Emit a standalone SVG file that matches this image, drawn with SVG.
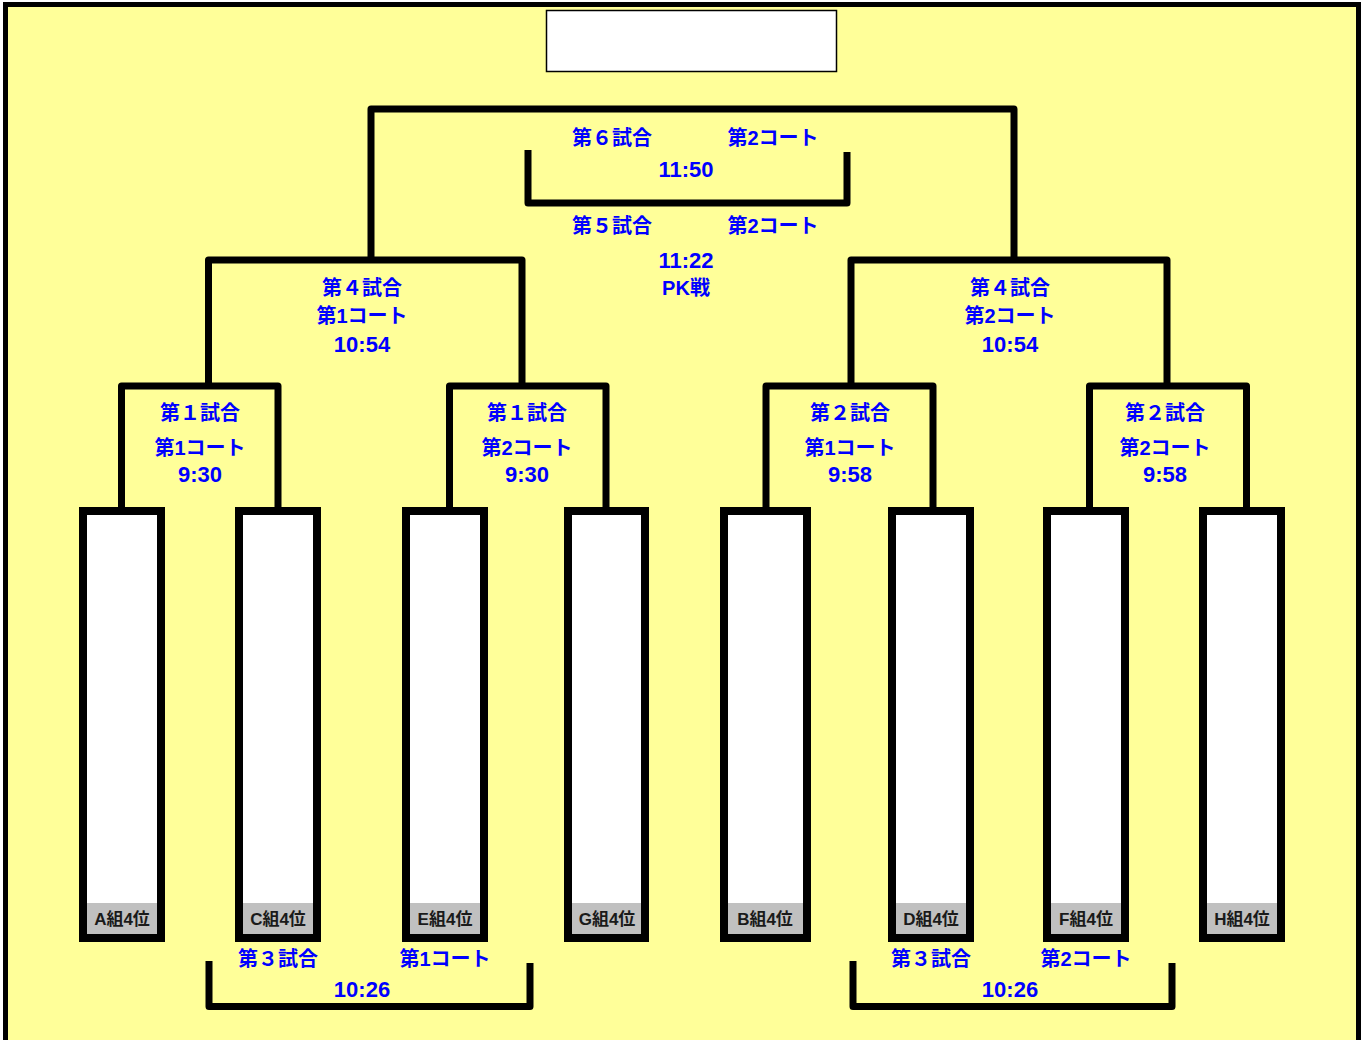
<svg xmlns="http://www.w3.org/2000/svg" width="1363" height="1040" viewBox="0 0 1363 1040">
<style>
.ln{fill:none;stroke:#000;stroke-width:7;stroke-linejoin:round;stroke-linecap:butt}
.t{font-family:"Liberation Sans","Noto Sans CJK JP",sans-serif;font-weight:bold;font-size:20px;fill:#0000FF;text-anchor:middle}
.tm{font-size:22px}
.team{fill:#fff;stroke:#000;stroke-width:8}
.band{fill:#C0C0C0}
.tl{font-family:"Liberation Sans","Noto Sans CJK JP",sans-serif;font-weight:bold;font-size:17px;fill:#1a1a1a;text-anchor:middle}
</style>
<rect x="0" y="0" width="1363" height="1040" fill="#fff"/>
<rect x="5.5" y="4.5" width="1353" height="1050" fill="#FFFF99" stroke="#000" stroke-width="5"/>
<g id="title"><rect x="546.5" y="10.5" width="290" height="61" fill="#fff" stroke="#000" stroke-width="1.5"/></g>
<g id="connectors">
<polyline class="ln" points="121.5,507 121.5,386 278,386 278,507"/>
<polyline class="ln" points="449.5,507 449.5,386 606,386 606,507"/>
<polyline class="ln" points="766,507 766,386 933,386 933,507"/>
<polyline class="ln" points="1089.5,507 1089.5,386 1246.5,386 1246.5,507"/>
<polyline class="ln" points="208.5,386 208.5,260 522,260 522,386"/>
<polyline class="ln" points="851,386 851,260 1167,260 1167,386"/>
<polyline class="ln" points="371,260 371,109 1014,109 1014,260"/>
<polyline class="ln" points="528,150 528,203 847,203 847,152"/>
<polyline class="ln" points="209,961 209,1006.5 530,1006.5 530,963"/>
<polyline class="ln" points="853,961 853,1006.5 1172,1006.5 1172,963"/>
</g>
<g id="teamA"><rect class="team" x="83" y="511" width="78" height="427"/><rect class="band" x="87" y="903" width="70" height="31"/><text class="tl" x="122" y="925">A組4位</text></g>
<g id="teamC"><rect class="team" x="239" y="511" width="78" height="427"/><rect class="band" x="243" y="903" width="70" height="31"/><text class="tl" x="278" y="925">C組4位</text></g>
<g id="teamE"><rect class="team" x="406" y="511" width="78" height="427"/><rect class="band" x="410" y="903" width="70" height="31"/><text class="tl" x="445" y="925">E組4位</text></g>
<g id="teamG"><rect class="team" x="568" y="511" width="77" height="427"/><rect class="band" x="572" y="903" width="69" height="31"/><text class="tl" x="607" y="925">G組4位</text></g>
<g id="teamB"><rect class="team" x="724" y="511" width="83" height="427"/><rect class="band" x="728" y="903" width="75" height="31"/><text class="tl" x="765" y="925">B組4位</text></g>
<g id="teamD"><rect class="team" x="892" y="511" width="78" height="427"/><rect class="band" x="896" y="903" width="70" height="31"/><text class="tl" x="931" y="925">D組4位</text></g>
<g id="teamF"><rect class="team" x="1047" y="511" width="78" height="427"/><rect class="band" x="1051" y="903" width="70" height="31"/><text class="tl" x="1086" y="925">F組4位</text></g>
<g id="teamH"><rect class="team" x="1203" y="511" width="78" height="427"/><rect class="band" x="1207" y="903" width="70" height="31"/><text class="tl" x="1242" y="925">H組4位</text></g>
<g id="match1a"><text class="t" x="200" y="420">第１試合</text><text class="t" x="200" y="455">第1コート</text><text class="t tm" x="200" y="482">9:30</text></g>
<g id="match1b"><text class="t" x="527" y="420">第１試合</text><text class="t" x="527" y="455">第2コート</text><text class="t tm" x="527" y="482">9:30</text></g>
<g id="match2a"><text class="t" x="850" y="420">第２試合</text><text class="t" x="850" y="455">第1コート</text><text class="t tm" x="850" y="482">9:58</text></g>
<g id="match2b"><text class="t" x="1165" y="420">第２試合</text><text class="t" x="1165" y="455">第2コート</text><text class="t tm" x="1165" y="482">9:58</text></g>
<g id="match4a"><text class="t" x="362" y="295">第４試合</text><text class="t" x="362" y="323">第1コート</text><text class="t tm" x="362" y="352">10:54</text></g>
<g id="match4b"><text class="t" x="1010" y="295">第４試合</text><text class="t" x="1010" y="323">第2コート</text><text class="t tm" x="1010" y="352">10:54</text></g>
<g id="match6"><text class="t" x="612" y="145">第６試合</text><text class="t" x="773" y="145">第2コート</text><text class="t tm" x="686" y="177">11:50</text></g>
<g id="match5"><text class="t" x="612" y="233">第５試合</text><text class="t" x="773" y="233">第2コート</text><text class="t tm" x="686" y="268">11:22</text><text class="t" x="686" y="295">PK戦</text></g>
<g id="match3a"><text class="t" x="278" y="966">第３試合</text><text class="t" x="445" y="966">第1コート</text><text class="t tm" x="362" y="997">10:26</text></g>
<g id="match3b"><text class="t" x="931" y="966">第３試合</text><text class="t" x="1086" y="966">第2コート</text><text class="t tm" x="1010" y="997">10:26</text></g>
</svg>
